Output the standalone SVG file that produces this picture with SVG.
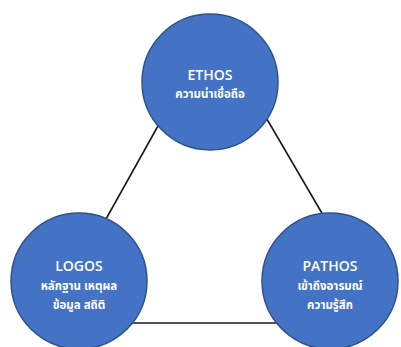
<svg xmlns="http://www.w3.org/2000/svg" width="401" height="347" viewBox="0 0 401 347">
  <style>
    .link { stroke: #1a1a1a; stroke-width: 1.6; fill: none; }
    .bubble { fill: #4472C4; stroke: #2F528F; stroke-width: 1.5; }
    .title { font-family: "Open Sans", "Liberation Sans", sans-serif; font-weight: 600; font-size: 14px; fill: #ffffff; text-anchor: middle; }
    .sub { font-family: "Noto Sans Thai", "Noto Sans", "Liberation Sans", sans-serif; font-weight: 700; font-size: 11.5px; fill: #ffffff; text-anchor: middle; }
  </style>
  <rect width="401" height="347" fill="#ffffff"/>

  <!-- triangle edges joining the three appeals -->
  <g id="connectors">
    <line class="link" x1="182" y1="83" x2="82" y2="262"/>
    <line class="link" x1="247" y1="85" x2="347" y2="256"/>
    <line class="link" x1="100" y1="323" x2="300" y2="323"/>
  </g>

  <g id="ethos">
    <circle class="bubble" cx="210" cy="82" r="68"/>
    <text class="title" x="210" y="80">ETHOS</text>
    <text class="sub" x="210" y="98">ความน่าเชื่อถือ</text>
  </g>

  <g id="logos">
    <circle class="bubble" cx="79" cy="281" r="68"/>
    <text class="title" x="79" y="271">LOGOS</text>
    <text class="sub" x="79" y="290">หลักฐาน เหตุผล</text>
    <text class="sub" x="79" y="309">ข้อมูล สถิติ</text>
  </g>

  <g id="pathos">
    <circle class="bubble" cx="330" cy="281" r="68"/>
    <text class="title" x="330" y="271">PATHOS</text>
    <text class="sub" x="330" y="290">เข้าถึงอารมณ์</text>
    <text class="sub" x="330" y="309">ความรู้สึก</text>
  </g>
</svg>
